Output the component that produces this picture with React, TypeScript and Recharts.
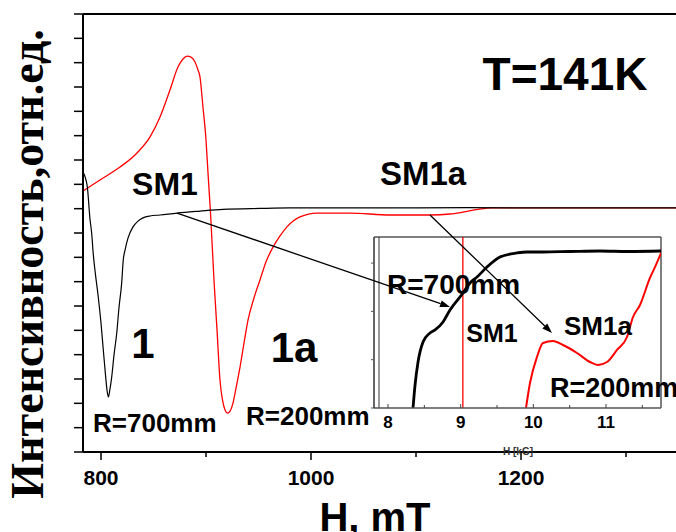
import React from 'react';
import { LineChart, Line, XAxis, YAxis, ReferenceLine } from 'recharts';

// main spectra, H in mT, intensity in arbitrary units
const blackField = [782.9, 785.2, 787.0, 789.5, 791.1, 792.7, 794.8, 797.4, 800.0, 802.2, 804.3, 805.7, 807.0, 808.4, 810.2, 812.4, 815.0, 817.1, 819.7, 821.2, 822.9, 825.7, 830.5, 835.2, 840.0, 846.7, 856.2, 872.4, 894.3, 916.2, 951.4, 980.0, 1050, 1150, 1250, 1347.6];
const blackSignal = [11.51, 11.26, 10.89, 9.58, 9.0, 8.1, 7.27, 6.37, 5.3, 4.19, 3.16, 2.55, 2.26, 2.55, 3.08, 3.99, 4.89, 5.92, 6.95, 7.89, 8.3, 8.79, 9.25, 9.49, 9.62, 9.7, 9.74, 9.82, 9.9, 9.97, 10.01, 10.03, 10.03, 10.04, 10.03, 10.03];

const redField = [782.9, 799.0, 818.1, 834.3, 846.7, 856.2, 865.7, 873.3, 878.1, 881.9, 885.7, 889.5, 892.4, 894.3, 897.1, 900.0, 901.9, 904.3, 907.6, 910.5, 913.3, 915.7, 918.1, 920.5, 922.9, 925.7, 928.6, 932.4, 936.2, 940.0, 945.7, 951.4, 957.1, 963.8, 970.5, 977.1, 989.5, 1005.7, 1037.1, 1075.2, 1113.3, 1132.4, 1144.8, 1159.0, 1173.3, 1250, 1347.6];
const redSignal = [10.73, 11.18, 11.71, 12.29, 12.95, 13.77, 14.88, 15.82, 16.15, 16.27, 16.23, 16.03, 15.7, 15.41, 14.18, 12.82, 11.47, 9.82, 7.07, 5.01, 2.96, 2.14, 1.73, 1.6, 1.68, 2.01, 2.63, 3.49, 4.48, 5.42, 6.33, 7.07, 7.81, 8.42, 8.88, 9.25, 9.66, 9.82, 9.82, 9.74, 9.74, 9.78, 9.86, 9.97, 10.03, 10.03, 10.03];

// inset, H in kG
const insetBlackField = [8.344, 8.372, 8.413, 8.482, 8.578, 8.647, 8.757, 8.853, 9.032, 9.128, 9.225, 9.362, 9.541, 9.775, 9.913, 10.133, 10.5, 10.917, 11.3, 11.757];
const insetBlackSignal = [0, 0.476, 0.952, 1.366, 1.553, 1.615, 1.781, 2.03, 2.381, 2.588, 2.712, 2.919, 3.126, 3.209, 3.23, 3.23, 3.24, 3.25, 3.24, 3.25];
const insetRedField = [9.899, 9.954, 10.05, 10.133, 10.271, 10.408, 10.601, 10.78, 10.89, 11.014, 11.151, 11.289, 11.372, 11.468, 11.605, 11.688, 11.757];
const insetRedSignal = [0, 0.518, 1.056, 1.346, 1.387, 1.304, 1.139, 0.952, 0.89, 0.952, 1.201, 1.47, 1.884, 2.133, 2.692, 2.961, 3.209];
const insetMarkerField = 9.03;

const mainTicks = [800, 900, 1000, 1100, 1200, 1300];
const mainLabelled = [800, 1000, 1200];
const mainYTicks = [0, 1, 2, 3, 4, 5, 6, 7, 8, 9, 10, 11, 12, 13, 14, 15, 16, 17, 18];
const insetTicks = [8, 8.5, 9, 9.5, 10, 10.5, 11, 11.5];
const insetYTicks = [0, 1, 2, 3];

// arrows: from a point on the main curve to the inset
const arrowSM1 = [{ x: 872.4, y: 9.82 }, { x: 1132.4, y: 5.96 }];
const arrowSM1a = [{ x: 1113.3, y: 9.74 }, { x: 1229.5, y: 4.89 }];

const MAIN_X = [782.86, 1347.6];
const MAIN_Y = [0, 18];
const INSET_X = [7.807, 11.757];
const INSET_Y = [0, 3.54];

const W = 676;
const H = 532;
const SANS = '"Liberation Sans", Arial, sans-serif';

const toPoints = (xs: number[], ys: number[]) => xs.map((h, i) => ({ h, v: ys[i] }));

const blackData = toPoints(blackField, blackSignal);
const redData = toPoints(redField, redSignal);
const insetBlack = toPoints(insetBlackField, insetBlackSignal);
const insetRed = toPoints(insetRedField, insetRedSignal);

const MainTick = (props: any) => {
  const { x, y, payload } = props;
  const major = mainLabelled.includes(payload.value);
  return (
    <g>
      <line x1={x} x2={x} y1={y} y2={y + (major ? 8 : 5)} stroke="#000" strokeWidth={1.5} />
      {major && (
        <text x={x} y={y + 33} textAnchor="middle" fontFamily={SANS} fontWeight="bold" fontSize={21} fill="#000">
          {payload.value}
        </text>
      )}
    </g>
  );
};

const InsetTick = (props: any) => {
  const { x, y, payload } = props;
  const major = Number.isInteger(payload.value);
  return (
    <g>
      <line x1={x} x2={x} y1={y} y2={y - (major ? 4 : 3)} stroke="#444" strokeWidth={1} />
      {major && (
        <text x={x} y={y + 20} textAnchor="middle" fontFamily={SANS} fontWeight="bold" fontSize={17} fill="#000">
          {payload.value}
        </text>
      )}
    </g>
  );
};

const ArrowShape = (props: any) => {
  const { x1, y1, x2, y2 } = props;
  const a = Math.atan2(y2 - y1, x2 - x1);
  const len = 10;
  const half = 3.5;
  const bx = x2 - len * Math.cos(a);
  const by = y2 - len * Math.sin(a);
  const p1 = `${bx + half * Math.sin(a)},${by - half * Math.cos(a)}`;
  const p2 = `${bx - half * Math.sin(a)},${by + half * Math.cos(a)}`;
  return (
    <g>
      <line x1={x1} y1={y1} x2={bx} y2={by} stroke="#000" strokeWidth={1.3} />
      <polygon points={`${x2},${y2} ${p1} ${p2}`} fill="#000" />
    </g>
  );
};

const Label = ({ x, y, size, children, anchor = 'middle' }: any) => (
  <text x={x} y={y} textAnchor={anchor} fontFamily={SANS} fontWeight="bold" fontSize={size} fill="#000">
    {children}
  </text>
);

const layer: React.CSSProperties = { position: 'absolute', left: 0, top: 0 };

export default function App() {
  return (
    <div style={{ position: 'absolute', left: 0, top: 0, width: W, height: H, background: '#fff', overflow: 'hidden' }}>
      <div style={layer}>
        <LineChart width={W} height={H} margin={{ top: 14, right: 0, bottom: 0, left: 0 }}>
          <XAxis
            type="number"
            dataKey="h"
            domain={MAIN_X}
            allowDataOverflow
            ticks={mainTicks}
            interval={0}
            height={80}
            tickSize={0}
            tickMargin={0}
            tickLine={false}
            axisLine={{ stroke: '#000', strokeWidth: 2 }}
            tick={<MainTick />}
          />
          <YAxis
            type="number"
            domain={MAIN_Y}
            ticks={mainYTicks}
            interval={0}
            width={83}
            tickSize={9}
            tickFormatter={() => ''}
            tickLine={{ stroke: '#000', strokeWidth: 1.5 }}
            axisLine={{ stroke: '#000', strokeWidth: 2 }}
          />
          <ReferenceLine y={18} stroke="#000" strokeWidth={2} />
          <Line data={redData} dataKey="v" type="monotone" stroke="#ff0000" strokeWidth={1.3} dot={false} isAnimationActive={false} />
          <Line data={blackData} dataKey="v" type="monotone" stroke="#000" strokeWidth={1.2} dot={false} isAnimationActive={false} />
        </LineChart>
      </div>

      <div style={{ position: 'absolute', left: 375, top: 238, width: 286, height: 170, background: '#fff' }} />

      <div style={layer}>
        <LineChart width={W} height={H} margin={{ top: 237, right: 15, bottom: 94, left: 364 }}>
          <XAxis
            type="number"
            dataKey="h"
            domain={INSET_X}
            allowDataOverflow
            ticks={insetTicks}
            interval={0}
            height={30}
            tickSize={0}
            tickMargin={0}
            tickLine={false}
            axisLine={{ stroke: '#555', strokeWidth: 1.5 }}
            tick={<InsetTick />}
          />
          <YAxis
            type="number"
            domain={INSET_Y}
            allowDataOverflow
            ticks={insetYTicks}
            interval={0}
            width={10}
            tickSize={3}
            tickFormatter={() => ''}
            tickLine={{ stroke: '#555', strokeWidth: 1 }}
            axisLine={{ stroke: '#333', strokeWidth: 1.5 }}
          />
          <ReferenceLine y={INSET_Y[1]} stroke="#555" strokeWidth={1.5} />
          <ReferenceLine x={INSET_X[1]} stroke="#555" strokeWidth={1.5} />
          <ReferenceLine x={7.876} stroke="#333" strokeWidth={1} />
          <ReferenceLine x={insetMarkerField} stroke="#ff0000" strokeWidth={1.3} />
          <Line data={insetBlack} dataKey="v" type="monotone" stroke="#000" strokeWidth={2.8} dot={false} isAnimationActive={false} />
          <Line data={insetRed} dataKey="v" type="monotone" stroke="#ff0000" strokeWidth={2} dot={false} isAnimationActive={false} />
        </LineChart>
      </div>

      <div style={layer}>
        <LineChart width={W} height={H} data={blackData} margin={{ top: 14, right: 0, bottom: 0, left: 0 }}>
          <XAxis type="number" dataKey="h" domain={MAIN_X} allowDataOverflow height={80} axisLine={false} tickLine={false} tick={false} />
          <YAxis type="number" domain={MAIN_Y} allowDataOverflow width={83} axisLine={false} tickLine={false} tick={false} />
          <ReferenceLine segment={arrowSM1} ifOverflow="visible" shape={ArrowShape} />
          <ReferenceLine segment={arrowSM1a} ifOverflow="visible" shape={ArrowShape} />

          <text
            x={43}
            y={264}
            transform="rotate(-90, 43, 264)"
            textAnchor="middle"
            fontFamily='"Liberation Serif", "Times New Roman", serif'
            fontWeight="bold"
            fontSize={46}
            fill="#000"
          >
            Интенсивность,отн.ед.
          </text>
          <Label x={375} y={531} size={40}>H, mT</Label>
          <Label x={565} y={90} size={46}>T=141K</Label>
          <Label x={165} y={195} size={32}>SM1</Label>
          <Label x={423} y={185} size={33}>SM1a</Label>
          <Label x={143} y={358} size={42}>1</Label>
          <Label x={294} y={362} size={42}>1a</Label>
          <Label x={93} y={432} size={26} anchor="start">R=700mm</Label>
          <Label x={246} y={425} size={26} anchor="start">R=200mm</Label>
          <Label x={387} y={294} size={28} anchor="start">R=700mm</Label>
          <Label x={492} y={342} size={25}>SM1</Label>
          <Label x={598} y={335} size={26}>SM1a</Label>
          <Label x={550} y={397} size={27} anchor="start">R=200mm</Label>
          <text x={518} y={455} textAnchor="middle" fontFamily={SANS} fontWeight="bold" fontSize={10} fill="#333">
            H [kG]
          </text>
        </LineChart>
      </div>
    </div>
  );
}
